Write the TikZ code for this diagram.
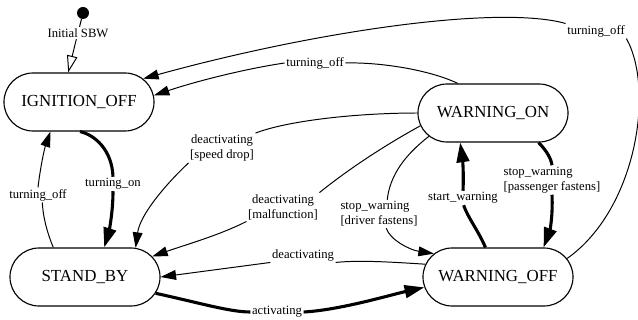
\documentclass[tikz,border=0pt]{standalone}
\usepackage{fontspec}
\setmainfont{Liberation Serif}
\usetikzlibrary{arrows.meta,shapes.misc}
\begin{document}
\begin{tikzpicture}[x=0.025cm,y=-0.025cm,
  state/.style={draw, line width=0.8pt, rounded rectangle, minimum width=3.75cm, minimum height=1.45cm, inner sep=0pt, font=\fontsize{12}{14}\selectfont},
  lbl/.style={inner sep=1pt, font=\fontsize{9}{10.7}\selectfont, align=center},
  ethin/.style={line width=0.7pt},
  ethick/.style={line width=2.2pt},
  tipthin/.style={-{Triangle[length=11pt,width=7pt]}},
  tipthick/.style={-{Triangle[length=14pt,width=9pt]}},
  tipopen/.style={-{Triangle[open,length=12pt,width=7.5pt]}}
]
\useasboundingbox (0,0) rectangle (638,320);

% states
\node[state] (io) at (79,102) {IGNITION\_OFF};
\node[state] (won) at (493,113) {WARNING\_ON};
\node[state] (sb) at (85,277) {STAND\_BY};
\node[state] (woff) at (498,277) {WARNING\_OFF};

% initial
\node[circle, fill, inner sep=0pt, minimum size=0.3cm] (init) at (83,13) {};
\node[lbl] (initl) at (78,33) {Initial SBW};
\draw[ethin] (init) -- (initl);
\draw[ethin,tipopen] (initl.-105) -- (io.110);

% labels
\node[lbl] (l1) at (596,31) {turning\_off};
\node[lbl] (l2) at (315,63) {turning\_off};
\node[lbl] (l3) at (222,148) {deactivating\\{[speed drop]}};
\node[lbl] (l4) at (283,207) {deactivating\\{[malfunction]}};
\node[lbl, align=left] (l5) at (379,214) {stop\_warning\\{[driver fastens]}};
\node[lbl] (l6) at (463,198) {start\_warning};
\node[lbl, align=left] (l7) at (552,180) {stop\_warning\\{[passenger fastens]}};
\node[lbl] (l8) at (303,255) {deactivating};
\node[lbl] (l9) at (277,312) {activating};
\node[lbl] (l10) at (113,184) {turning\_on};
\node[lbl] (l11) at (38,195) {turning\_off};

% 1 WARNING_OFF -> IGNITION_OFF
\draw[ethin] (woff.15) .. controls (636,210) and (655,90) .. (l1.south east);
\draw[ethin,tipthin] (l1.north west) .. controls (500,5) and (320,30) .. (io.20);
% 2 WARNING_ON -> IGNITION_OFF
\draw[ethin] (won.140) .. controls (430,70) and (380,62) .. (l2.east);
\draw[ethin,tipthin] (l2.west) .. controls (250,68) and (200,80) .. (io.5);
% 3 speed drop
\draw[ethin] (won.west) .. controls (360,113) and (290,120) .. (l3.north east);
\draw[ethin,tipthin] (l3.south west) .. controls (165,185) and (140,215) .. (sb.30);
% 4 malfunction
\draw[ethin] (won.190) .. controls (380,148) and (345,172) .. (l4.north east);
\draw[ethin,tipthin] (l4.south west) .. controls (220,235) and (185,245) .. (sb.17);
% 5 driver fastens
\draw[ethin] (won.200) .. controls (405,155) and (390,175) .. (l5.60);
\draw[ethin,tipthin] (l5.-63) .. controls (390,240) and (410,250) .. (woff.160);
% 6 start_warning
\draw[ethick] (woff.113) .. controls (478,230) and (468,218) .. (l6.-85);
\draw[ethick,tipthick] (l6.north) .. controls (464,170) and (462,155) .. (won.222);
% 7 passenger fastens
\draw[ethick] (won.-33) .. controls (546,150) and (551,158) .. (l7.north);
\draw[ethick,tipthick] (l7.south) .. controls (553,215) and (550,230) .. (woff.33);
% 8 deactivating
\draw[ethin] (woff.170) .. controls (390,262) and (360,260) .. (l8.south east);
\draw[ethin,tipthin] (l8.south west) -- (sb.east);
% 9 activating
\draw[ethick] (sb.-13) .. controls (200,303) and (230,312) .. (l9.west);
\draw[ethick,tipthick] (l9.east) .. controls (340,310) and (390,295) .. (woff.188);
% 10 turning_on
\draw[ethick] (io.-88) .. controls (95,135) and (112,150) .. (l10.north);
\draw[ethick,tipthick] (l10.south) .. controls (113,215) and (108,235) .. (sb.57);
% 11 turning_off
\draw[ethin] (sb.137) .. controls (48,235) and (43,218) .. (l11.-60);
\draw[ethin,tipthin] (l11.north) .. controls (40,170) and (44,150) .. (io.226);
\end{tikzpicture}
\end{document}
